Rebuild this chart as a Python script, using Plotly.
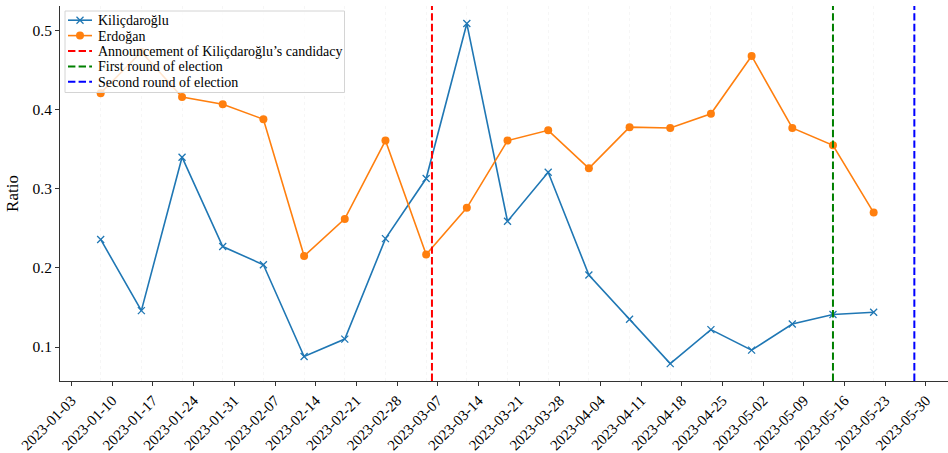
import plotly.graph_objects as go

# Weekly ratios per candidate
weeks = ["2023-01-08", "2023-01-15", "2023-01-22", "2023-01-29", "2023-02-05",
         "2023-02-12", "2023-02-19", "2023-02-26", "2023-03-05", "2023-03-12",
         "2023-03-19", "2023-03-26", "2023-04-02", "2023-04-09", "2023-04-16",
         "2023-04-23", "2023-04-30", "2023-05-07", "2023-05-14", "2023-05-21"]
kilicdaroglu = [0.236, 0.146, 0.340, 0.227, 0.204, 0.088, 0.110, 0.237, 0.313, 0.509,
                0.259, 0.321, 0.191, 0.135, 0.079, 0.122, 0.096, 0.129, 0.141, 0.144]
erdogan = [0.421, 0.473, 0.416, 0.407, 0.388, 0.215, 0.262, 0.361, 0.217, 0.276,
           0.361, 0.374, 0.326, 0.378, 0.377, 0.395, 0.468, 0.377, 0.355, 0.270]

# Key events (date, label, colour)
event_dates = ["2023-03-06", "2023-05-14", "2023-05-28"]
event_labels = ["Announcement of Kiliçdaroğlu’s candidacy",
                "First round of election", "Second round of election"]
event_colors = ["#ff0000", "#008000", "#0000ff"]

BLUE, ORANGE = "#1f77b4", "#ff7f0e"
FONT = "Liberation Serif, Times New Roman, serif"
W, H = 948, 453
ML, MR, MT, MB = 60, 0, 6, 72
PW, PH = W - ML - MR, H - MT - MB
DASH = "7.4px,3.2px"


def px_x(px):
    """Pixel column -> paper x."""
    return (px - ML) / PW


def px_y(py):
    """Pixel row -> paper y."""
    return 1 - (py - MT) / PH


fig = go.Figure()
fig.add_trace(go.Scatter(
    x=weeks, y=kilicdaroglu, name="Kiliçdaroğlu", mode="lines+markers",
    line=dict(color=BLUE, width=1.6),
    marker=dict(symbol="x-thin-open", size=7, line=dict(color=BLUE, width=1.3)),
))
fig.add_trace(go.Scatter(
    x=weeks, y=erdogan, name="Erdoğan", mode="lines+markers",
    line=dict(color=ORANGE, width=1.6),
    marker=dict(symbol="circle", size=8, color=ORANGE),
))

# Event markers spanning the full plot height
for d, col in zip(event_dates, event_colors):
    fig.add_shape(type="line", xref="x", yref="paper", x0=d, x1=d, y0=0, y1=1,
                  line=dict(color=col, width=2, dash=DASH), layer="above")

# Legend box, drawn in the upper-left corner of the plot area
shapes = []
annotations = []
shapes.append(dict(type="rect", xref="paper", yref="paper",
                   x0=px_x(65), x1=px_x(344.5), y0=px_y(92.5), y1=px_y(11),
                   line=dict(color="#d4d4d4", width=1),
                   fillcolor="rgba(255,255,255,0.8)", layer="above"))

entries = [("Kiliçdaroğlu", BLUE, "solid", "x"),
           ("Erdoğan", ORANGE, "solid", "o")]
entries += [(lab, col, DASH, None) for lab, col in zip(event_labels, event_colors)]

row0, row_step = 20.2, 15.4
h0, h1, text_x = 68, 92, 96
for i, (lab, col, dash, mk) in enumerate(entries):
    yc = row0 + i * row_step
    shapes.append(dict(type="line", xref="paper", yref="paper",
                       x0=px_x(h0), x1=px_x(h1), y0=px_y(yc), y1=px_y(yc),
                       line=dict(color=col, width=1.6 if mk else 2, dash=dash),
                       layer="above"))
    xc = (h0 + h1) / 2
    if mk == "x":
        for s in (1, -1):
            shapes.append(dict(type="line", xref="paper", yref="paper",
                               xsizemode="pixel", ysizemode="pixel",
                               xanchor=px_x(xc), yanchor=px_y(yc),
                               x0=-3.5, x1=3.5, y0=-3.5 * s, y1=3.5 * s,
                               line=dict(color=col, width=1.3), layer="above"))
    elif mk == "o":
        shapes.append(dict(type="circle", xref="paper", yref="paper",
                           xsizemode="pixel", ysizemode="pixel",
                           xanchor=px_x(xc), yanchor=px_y(yc),
                           x0=-4, x1=4, y0=-4, y1=4,
                           fillcolor=col, line=dict(color=col, width=0),
                           layer="above"))
    annotations.append(dict(text=lab, xref="paper", yref="paper",
                            x=px_x(text_x), y=px_y(yc + 0.5),
                            xanchor="left", yanchor="middle", showarrow=False,
                            font=dict(family=FONT, size=14, color="black")))

for s in shapes:
    fig.add_shape(**s)

fig.update_layout(
    width=W, height=H,
    margin=dict(l=ML, r=MR, t=MT, b=MB),
    paper_bgcolor="white", plot_bgcolor="white",
    font=dict(family=FONT, size=15, color="black"),
    showlegend=False,
    annotations=annotations,
)

fig.update_xaxes(
    type="date", range=["2023-01-01", "2023-06-02 19:00"], automargin=False,
    tick0="2023-01-03", dtick=7 * 24 * 3600 * 1000, tickformat="%Y-%m-%d",
    tickangle=-45, ticks="outside", ticklen=4, tickcolor="#333",
    tickfont=dict(size=15),
    showline=True, linecolor="#333", linewidth=1,
    showgrid=False, zeroline=False,
    minor=dict(tick0=weeks[0], dtick=7 * 24 * 3600 * 1000, showgrid=True,
               gridcolor="rgba(0,0,0,0.035)", griddash="dot", ticks=""),
)
fig.update_yaxes(
    range=[0.057, 0.5312], automargin=False,
    tickvals=[0.1, 0.2, 0.3, 0.4, 0.5], tickformat=".1f",
    ticks="outside", ticklen=4, tickcolor="#333", tickfont=dict(size=15.5),
    showline=True, linecolor="#333", linewidth=1,
    showgrid=False, zeroline=False,
    title=dict(text="Ratio", font=dict(size=17), standoff=9),
)

fig.write_html("out.html")
